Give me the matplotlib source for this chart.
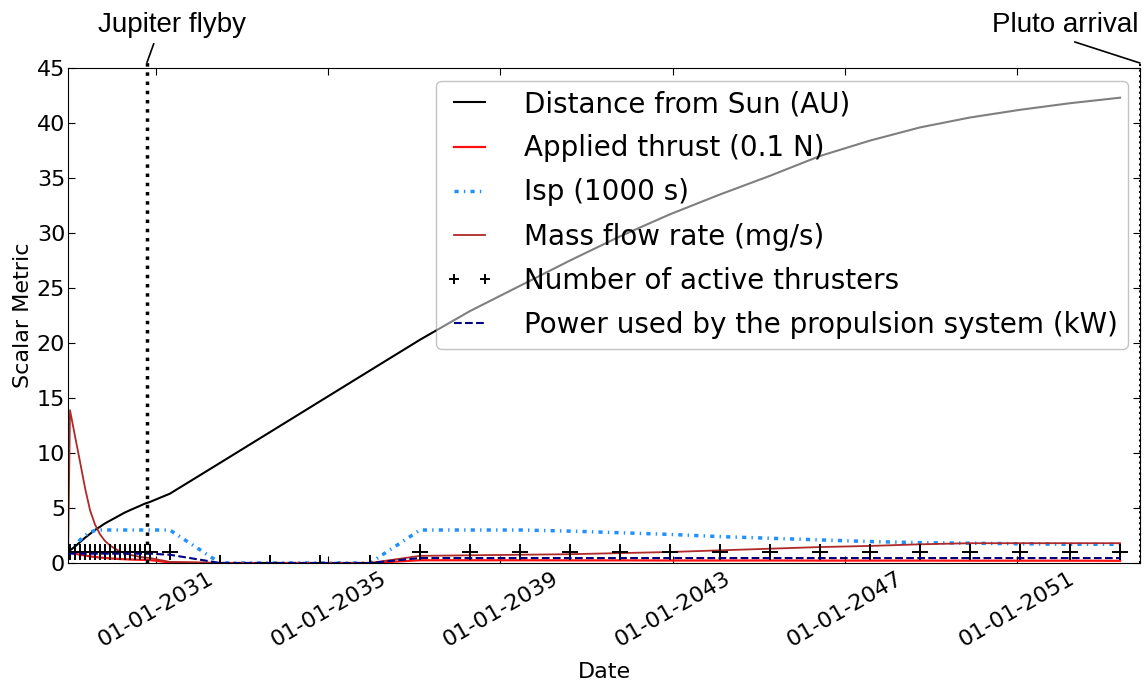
import datetime as dt
import matplotlib
matplotlib.use('Agg')
import matplotlib.pyplot as plt
import matplotlib.dates as mdates

# sample dates of the trajectory (dense near Jupiter, then ~424 day steps)
dates = [
    '2028-12-15', '2029-01-01', '2029-02-13', '2029-03-27', '2029-05-09',
    '2029-06-20', '2029-08-01', '2029-09-13', '2029-10-25', '2029-12-06',
    '2030-01-18', '2030-03-01', '2030-04-13', '2030-05-25', '2030-07-06',
    '2030-08-18', '2030-09-29', '2030-11-10',
    '2031-04-28', '2032-06-27', '2033-08-25', '2034-10-23', '2035-12-21',
    '2037-02-18', '2038-04-17', '2039-06-16', '2040-08-13', '2041-10-12',
    '2042-12-09', '2044-02-06', '2045-04-06', '2046-06-04', '2047-08-02',
    '2048-09-30', '2049-11-28', '2051-01-26', '2052-03-26', '2053-05-24',
]
distance_au = [
    1.0, 1.15, 1.5, 1.9, 2.3, 2.65, 3.0, 3.3, 3.6, 3.85, 4.1, 4.35, 4.6, 4.8,
    5.0, 5.2, 5.4, 5.55,
    6.3, 9.1, 11.9, 14.7, 17.5, 20.3, 22.9, 25.2, 27.5, 29.7, 31.7, 33.5,
    35.2, 37.0, 38.4, 39.6, 40.5, 41.2, 41.8, 42.3,
]
thrust_01n = [
    1.0, 0.95, 0.85, 0.75, 0.68, 0.6, 0.55, 0.5, 0.46, 0.42, 0.39, 0.36,
    0.34, 0.32, 0.3, 0.29, 0.28, 0.27,
    0.05, 0, 0, 0, 0, 0.25, 0.25, 0.25, 0.24, 0.24, 0.23, 0.23, 0.23, 0.22,
    0.22, 0.22, 0.21, 0.21, 0.21, 0.2,
]
isp_1000s = [
    0.9, 1.1, 1.6, 2.1, 2.5, 2.8, 2.95, 3.0, 3.0, 3.0, 3.0, 3.0, 3.0, 3.0,
    3.0, 3.0, 3.0, 3.0,
    3.0, 0, 0, 0, 0, 3.0, 3.0, 3.0, 2.9, 2.75, 2.6, 2.4, 2.25, 2.1, 1.95,
    1.85, 1.8, 1.75, 1.7, 1.7,
]
mass_flow = [
    0, 13.9, 11.5, 9.2, 6.8, 4.8, 3.5, 2.6, 2.0, 1.6, 1.3, 1.05, 0.9, 0.75,
    0.65, 0.55, 0.5, 0.45,
    0.1, 0, 0, 0, 0, 0.65, 0.7, 0.75, 0.8, 0.9, 1.0, 1.15, 1.3, 1.45, 1.55,
    1.7, 1.8, 1.8, 1.8, 1.8,
]
n_thrusters = [1] * 18 + [1, 0, 0, 0, 0] + [1] * 15
power_kw = [
    0.85, 0.85, 0.85, 0.85, 0.85, 0.85, 0.85, 0.85, 0.85, 0.85, 0.85, 0.85,
    0.85, 0.85, 0.85, 0.85, 0.85, 0.85,
    0.75, 0, 0, 0, 0, 0.45, 0.45, 0.45, 0.45, 0.45, 0.45, 0.45, 0.45, 0.45,
    0.45, 0.45, 0.45, 0.45, 0.45, 0.45,
]
tick_years = [2031, 2035, 2039, 2043, 2047, 2051]
jupiter_flyby = '2030-10-16'
pluto_arrival = '2053-11-09'


def to_date(s):
    return dt.datetime.strptime(s, '%Y-%m-%d')


if __name__ == "__main__":
    plt.rcParams['font.family'] = 'DejaVu Sans'
    x = [to_date(d) for d in dates]

    fig = plt.figure(figsize=(11.47, 6.81), dpi=100)
    ax = fig.add_axes([68 / 1147, 1 - 563 / 681, 1072 / 1147, 495 / 681])

    ax.plot(x, distance_au, color='black', lw=1.5, label='Distance from Sun (AU)')
    ax.plot(x, thrust_01n, color='#ff1010', lw=1.6, label='Applied thrust (0.1 N)')
    ax.plot(x, isp_1000s, color='#1e90ff', lw=2.5, ls=(0, (1.2, 1.5, 0.4, 1.5)),
            label='Isp (1000 s)')
    ax.plot(x, mass_flow, color='#b02828', lw=1.3, label='Mass flow rate (mg/s)')
    ax.plot(x, n_thrusters, ls='none', marker='+', color='black', ms=11, mew=1.4,
            label='Number of active thrusters')
    ax.plot(x, power_kw, color='#000080', lw=1.5, ls='--',
            label='Power used by the propulsion system (kW)')

    jup = to_date(jupiter_flyby)
    plu = to_date(pluto_arrival)
    ax.axvline(jup, ymin=0, ymax=1.012, color='black', lw=2.5, ls=':', clip_on=False)
    ax.axvline(plu, ymin=0, ymax=1.01, color='black', lw=1.5, ls=':', clip_on=False)

    ax.annotate('Jupiter flyby', xy=(jup, 45.5), xytext=(0.097, 1.06),
                textcoords='axes fraction', ha='center', va='bottom',
                fontsize=20, family='Liberation Sans', annotation_clip=False,
                arrowprops=dict(arrowstyle='-', color='black', lw=1.2,
                                shrinkA=2, shrinkB=0, relpos=(0.39, 0)))
    ax.annotate('Pluto arrival', xy=(plu, 45.45), xytext=(0.93, 1.06),
                textcoords='axes fraction', ha='center', va='bottom',
                fontsize=20, family='Liberation Sans', annotation_clip=False,
                arrowprops=dict(arrowstyle='-', color='black', lw=1.2,
                                shrinkA=2, shrinkB=0, relpos=(0.49, 0)))

    ax.set_xlim(x[0], plu)
    ax.set_ylim(0, 45)
    ax.set_yticks(range(0, 50, 5))
    ax.set_xticks([dt.datetime(y, 1, 1) for y in tick_years])
    ax.xaxis.set_major_formatter(mdates.DateFormatter('%m-%d-%Y'))
    ax.tick_params(direction='in', top=True, right=True, length=5, labelsize=16)
    ax.tick_params(axis='x', pad=4)
    ax.tick_params(axis='y', pad=2)
    plt.setp(ax.get_xticklabels(), rotation=30, ha='center')
    ax.set_xlabel('Date', fontsize=16, labelpad=8)
    ax.set_ylabel('Scalar Metric', fontsize=16, labelpad=3)

    leg = ax.legend(loc='upper right', fontsize=20, numpoints=2, markerscale=0.7,
                    framealpha=0.5, fancybox=True, edgecolor='#888888',
                    borderaxespad=0.45, labelspacing=0.58, handlelength=1.7,
                    handletextpad=1.1, borderpad=0.35)
    leg.get_frame().set_facecolor('white')

    fig.savefig('out.png', dpi=100)
